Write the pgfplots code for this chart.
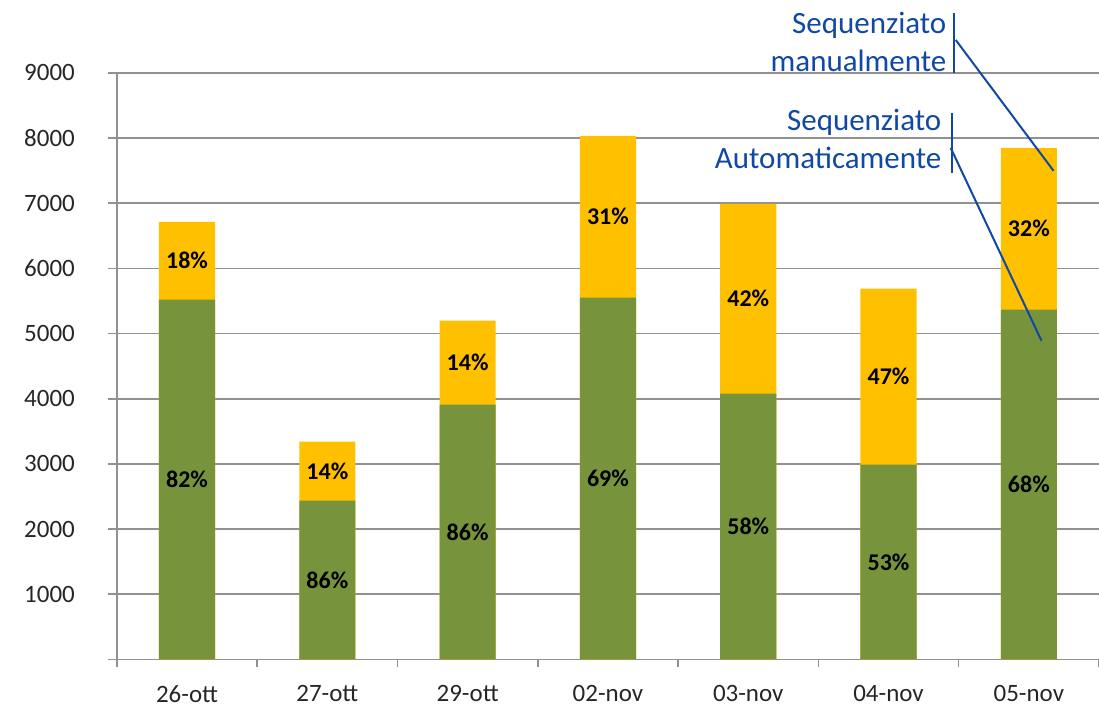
\documentclass[border=0pt]{standalone}
\usepackage{pgfplots}
\usepackage{pgfplotstable}
\pgfplotsset{compat=1.18}
\usepackage{fontspec}
\setmainfont{Carlito}
\definecolor{barGreen}{RGB}{119,147,60}
\definecolor{barOrange}{RGB}{255,192,0}
\definecolor{gridGray}{RGB}{145,145,145}
\definecolor{calloutBlue}{RGB}{16,72,164}

\pgfplotstableread{
x total auto pa pm
0 6716 5520 82 18
1 3343 2438 86 14
2 5198 3910 86 14
3 8034 5550 69 31
4 6992 4078 58 42
5 5689 2990 53 47
6 7850 5366 68 32
}\datatable

\begin{document}
\begin{tikzpicture}
\path[use as bounding box] (-58.5pt,-24pt) rectangle (491.5pt,330pt);
\begin{axis}[
  scale only axis, width=491.5pt, height=293.5pt,
  xmin=-0.5, xmax=6.5, ymin=0, ymax=9000,
  axis x line*=bottom, axis y line*=left,
  axis line style={gridGray, line width=0.8pt},
  ymajorgrids, grid style={gridGray, line width=0.8pt},
  ytick={0,1000,2000,3000,4000,5000,6000,7000,8000,9000},
  yticklabels={,1000,2000,3000,4000,5000,6000,7000,8000,9000},
  xtick={0,1,2,3,4,5,6},
  xticklabels={26-ott,27-ott,29-ott,02-nov,03-nov,04-nov,05-nov},
  minor xtick={-0.5,0.5,1.5,2.5,3.5,4.5,5.5,6.5},
  tick align=outside, major tick length=4.5pt, minor tick length=4pt,
  every major x tick/.append style={draw=none},
  every minor x tick/.append style={gridGray, line width=0.8pt},
  every major y tick/.append style={gridGray, line width=0.8pt},
  tick label style={font=\fontsize{12.5}{14}\selectfont, text=black!85},
  yticklabel style={xshift=-13pt},
  xticklabel style={yshift=-5pt},
  clip=false,
]
\addplot[ybar, bar width=0.4, bar shift=0pt, fill=barOrange, draw=none] table[x=x,y=total]{\datatable};
\addplot[ybar, bar width=0.4, bar shift=0pt, fill=barGreen, draw=none] table[x=x,y=auto]{\datatable};
\addplot[draw=none, mark=none, forget plot, point meta=explicit,
  nodes near coords={\pgfmathprintnumber[assume math mode=true]{\pgfplotspointmeta}\%},
  nodes near coords align=center,
  every node near coord/.append style={font=\fontsize{12}{14}\selectfont\bfseries, text=black}]
  table[x=x, y expr=\thisrow{auto}/2, meta=pa]{\datatable};
\addplot[draw=none, mark=none, forget plot, point meta=explicit,
  nodes near coords={\pgfmathprintnumber[assume math mode=true]{\pgfplotspointmeta}\%},
  nodes near coords align=center,
  every node near coord/.append style={font=\fontsize{12}{14}\selectfont\bfseries, text=black}]
  table[x=x, y expr=(\thisrow{auto}+\thisrow{total})/2, meta=pm]{\datatable};

\draw[calloutBlue, line width=1pt] (axis cs:5.464,9920) -- (axis cs:5.464,9000);
\draw[calloutBlue, line width=1pt] (axis cs:5.479,9506) -- (axis cs:6.176,7498);
\node[anchor=east, align=right, text=calloutBlue, font=\fontsize{15.5}{19}\selectfont, inner sep=0pt]
  at (axis cs:5.415,9480) {Sequenziato\\manualmente};
\draw[calloutBlue, line width=1pt] (axis cs:5.45,8387) -- (axis cs:5.45,7467);
\draw[calloutBlue, line width=1pt] (axis cs:5.443,7850) -- (axis cs:6.09,4891);
\node[anchor=east, align=right, text=calloutBlue, font=\fontsize{15.5}{19}\selectfont, inner sep=0pt]
  at (axis cs:5.379,7980) {Sequenziato\\Automaticamente};
\end{axis}
\end{tikzpicture}
\end{document}
